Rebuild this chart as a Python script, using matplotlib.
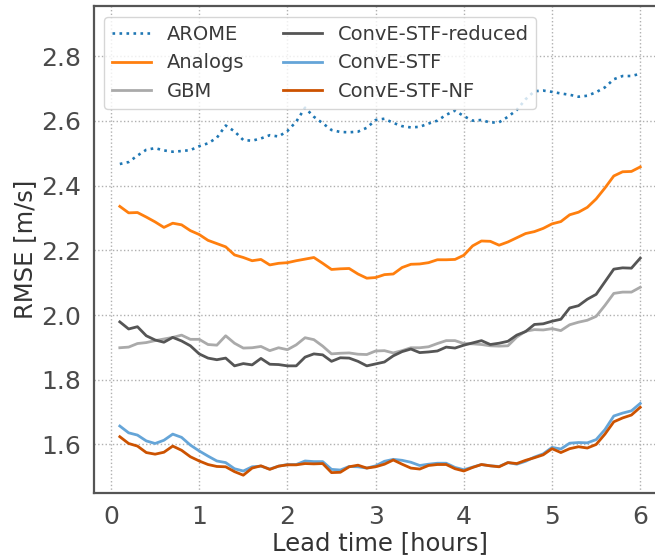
import numpy as np
import matplotlib
matplotlib.use("Agg")
import matplotlib.pyplot as plt

lead_time = np.round(np.arange(1, 61) * 0.1, 1)

arome = [2.467, 2.473, 2.493, 2.511, 2.516, 2.509, 2.505, 2.507, 2.510, 2.522,
         2.531, 2.548, 2.586, 2.568, 2.541, 2.539, 2.546, 2.556, 2.552, 2.569,
         2.598, 2.641, 2.613, 2.593, 2.572, 2.566, 2.565, 2.567, 2.579, 2.603,
         2.607, 2.594, 2.584, 2.580, 2.582, 2.592, 2.601, 2.619, 2.632, 2.615,
         2.601, 2.603, 2.595, 2.596, 2.613, 2.634, 2.667, 2.692, 2.694, 2.690,
         2.685, 2.681, 2.675, 2.678, 2.689, 2.704, 2.729, 2.739, 2.739, 2.746]

analogs = [2.336, 2.316, 2.317, 2.303, 2.288, 2.271, 2.284, 2.279, 2.261, 2.249,
           2.231, 2.221, 2.211, 2.186, 2.178, 2.168, 2.172, 2.155, 2.160, 2.162,
           2.168, 2.173, 2.178, 2.160, 2.141, 2.143, 2.144, 2.127, 2.114, 2.116,
           2.125, 2.127, 2.147, 2.157, 2.158, 2.162, 2.171, 2.171, 2.172, 2.185,
           2.214, 2.229, 2.228, 2.216, 2.226, 2.239, 2.252, 2.258, 2.268, 2.282,
           2.289, 2.310, 2.318, 2.333, 2.359, 2.393, 2.430, 2.443, 2.444, 2.458]

gbm = [1.899, 1.901, 1.912, 1.915, 1.921, 1.926, 1.931, 1.938, 1.925, 1.925,
       1.909, 1.907, 1.936, 1.913, 1.898, 1.899, 1.903, 1.890, 1.899, 1.893,
       1.908, 1.930, 1.924, 1.904, 1.880, 1.882, 1.883, 1.879, 1.878, 1.889,
       1.890, 1.883, 1.890, 1.899, 1.899, 1.902, 1.912, 1.921, 1.921, 1.912,
       1.911, 1.909, 1.905, 1.904, 1.905, 1.932, 1.950, 1.955, 1.954, 1.958,
       1.952, 1.970, 1.978, 1.984, 1.996, 2.030, 2.067, 2.071, 2.071, 2.086]

conve_reduced = [1.979, 1.957, 1.964, 1.936, 1.923, 1.916, 1.931, 1.920, 1.905, 1.880,
                 1.867, 1.862, 1.867, 1.843, 1.850, 1.846, 1.866, 1.848, 1.847, 1.843,
                 1.843, 1.870, 1.880, 1.877, 1.857, 1.868, 1.867, 1.857, 1.843, 1.849,
                 1.855, 1.874, 1.887, 1.895, 1.884, 1.886, 1.889, 1.901, 1.898, 1.907,
                 1.914, 1.921, 1.909, 1.913, 1.919, 1.938, 1.949, 1.971, 1.973, 1.981,
                 1.987, 2.022, 2.029, 2.049, 2.064, 2.103, 2.142, 2.146, 2.145, 2.176]

conve_stf = [1.657, 1.636, 1.629, 1.611, 1.603, 1.613, 1.632, 1.622, 1.598, 1.580,
             1.564, 1.549, 1.544, 1.525, 1.518, 1.531, 1.533, 1.524, 1.533, 1.538,
             1.538, 1.549, 1.547, 1.547, 1.523, 1.521, 1.532, 1.531, 1.527, 1.534,
             1.548, 1.554, 1.551, 1.545, 1.535, 1.539, 1.542, 1.542, 1.529, 1.522,
             1.530, 1.538, 1.534, 1.532, 1.544, 1.539, 1.548, 1.561, 1.571, 1.591,
             1.586, 1.604, 1.606, 1.605, 1.615, 1.646, 1.688, 1.697, 1.704, 1.727]

conve_stf_nf = [1.624, 1.603, 1.595, 1.575, 1.570, 1.576, 1.595, 1.582, 1.562, 1.549,
                1.538, 1.532, 1.531, 1.516, 1.505, 1.527, 1.534, 1.523, 1.533, 1.537,
                1.537, 1.541, 1.540, 1.541, 1.513, 1.514, 1.531, 1.536, 1.527, 1.531,
                1.539, 1.552, 1.539, 1.527, 1.524, 1.535, 1.538, 1.538, 1.525, 1.518,
                1.529, 1.538, 1.534, 1.531, 1.544, 1.541, 1.551, 1.559, 1.568, 1.587,
                1.575, 1.587, 1.593, 1.589, 1.600, 1.632, 1.670, 1.682, 1.691, 1.715]

x_ticks = [0, 1, 2, 3, 4, 5, 6]
y_ticks = [1.6, 1.8, 2.0, 2.2, 2.4, 2.6, 2.8]

text_color = "#4a4a4a"
fig = plt.figure(figsize=(6.55, 5.58), dpi=100)
ax = fig.add_axes([0.1432, 0.1165, 0.874, 0.8725])

ax.plot(lead_time, arome, linestyle=":", color="#1f77b4", lw=1.9, label="AROME")
ax.plot(lead_time, analogs, color="#ff7f0e", lw=2.0, label="Analogs")
ax.plot(lead_time, gbm, color="#aaaaaa", lw=2.0, label="GBM")
ax.plot(lead_time, conve_reduced, color="#555555", lw=2.0, label="ConvE-STF-reduced")
ax.plot(lead_time, conve_stf, color="#65a5d8", lw=2.0, label="ConvE-STF")
ax.plot(lead_time, conve_stf_nf, color="#cc5200", lw=2.0, label="ConvE-STF-NF")

ax.set_xlim(-0.195, 6.295)
ax.set_ylim(1.45, 2.955)
ax.set_xticks(x_ticks)
ax.set_yticks(y_ticks)
ax.set_yticklabels([f"{v:.1f}" for v in y_ticks])
ax.grid(True, linestyle=":", color="#b0b0b0", lw=1.0)
ax.set_axisbelow(True)
ax.tick_params(length=0, pad=9, labelsize=18, colors=text_color)
for s in ax.spines.values():
    s.set_color("#555555")
    s.set_linewidth(1.6)

ax.set_xlabel("Lead time [hours]", fontsize=17.5, color="#333333", labelpad=1)
ax.set_ylabel("RMSE [m/s]", fontsize=17.5, color="#333333", labelpad=3)

leg = ax.legend(loc="upper left", ncol=2, fontsize=14, frameon=True,
                columnspacing=2.0, borderaxespad=0.55)
leg.get_frame().set_edgecolor("#cccccc")
for t in leg.get_texts():
    t.set_color("#3a3a3a")

fig.savefig("out.png", dpi=100)
